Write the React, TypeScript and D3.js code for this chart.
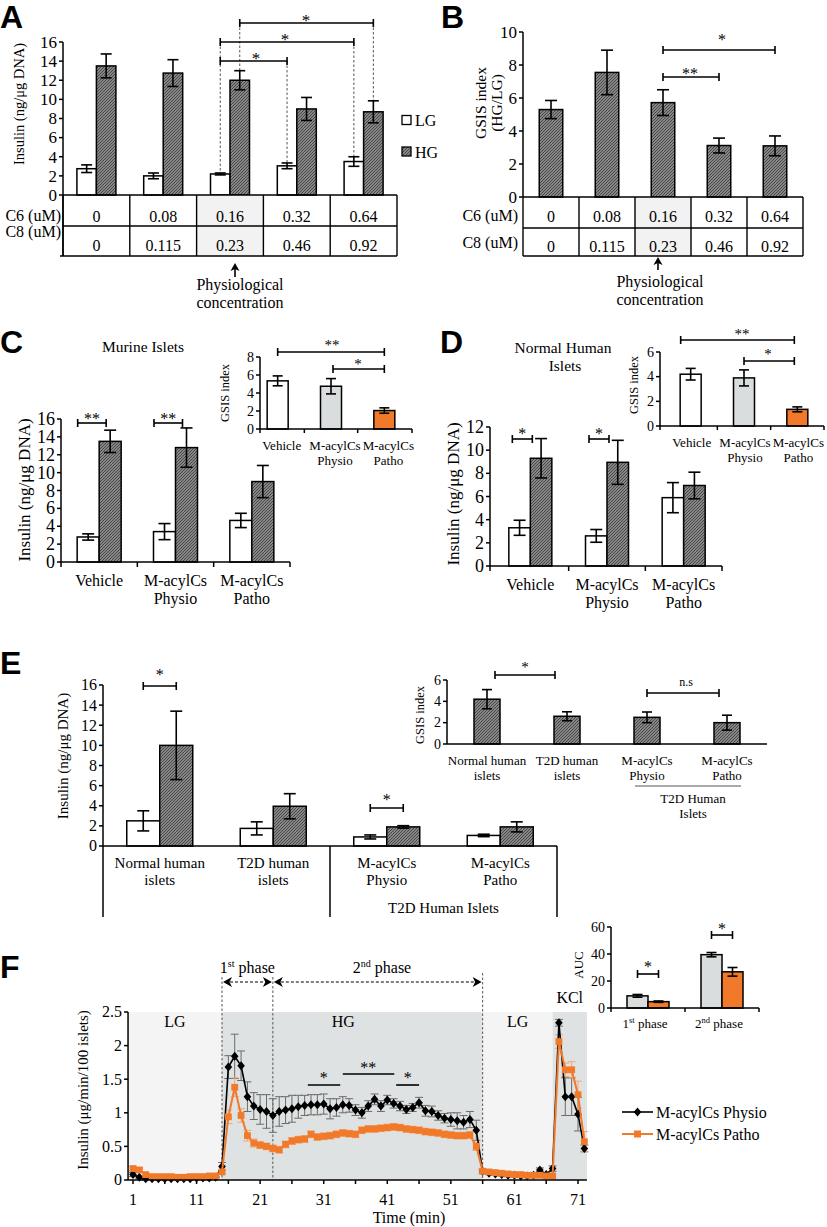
import React from "react";
import * as d3 from "d3";

const SERIF = '"Liberation Serif", "Times New Roman", Times, serif';
const SANS = '"Liberation Sans", Arial, Helvetica, sans-serif';
const ORANGE = "#f07a2a";
const ORANGE_ERR = "#f5a772";
const PHYSIO_FILL = "#d9dddd";
const LG_BG = "#f4f4f4";
const HG_BG = "#dee2e2";

// ===== Panels A / B =====
const c6Conc = ["0", "0.08", "0.16", "0.32", "0.64"];
const c8Conc = ["0", "0.115", "0.23", "0.46", "0.92"];
const aLG = [2.75, 2.0, 2.2, 3.05, 3.5];
const aLGErr = [0.4, 0.3, 0.1, 0.3, 0.5];
const aHG = [13.5, 12.75, 12.0, 9.0, 8.7];
const aHGErr = [1.25, 1.4, 1.0, 1.2, 1.15];
const aTicks = [0, 2, 4, 6, 8, 10, 12, 14, 16];
const bGsis = [5.3, 7.55, 5.72, 3.12, 3.1];
const bGsisErr = [0.55, 1.35, 0.78, 0.45, 0.6];
const bTicks = [0, 2, 4, 6, 8, 10];

// ===== Panels C / D =====
const treatments = ["Vehicle", "M-acylCs|Physio", "M-acylCs|Patho"];
const cLG = [2.8, 3.4, 4.65];
const cLGErr = [0.35, 0.9, 0.8];
const cHG = [13.5, 12.8, 9.0];
const cHGErr = [1.25, 2.2, 1.8];
const cGsis = [5.35, 4.75, 2.05];
const cGsisErr = [0.55, 0.85, 0.3];
const cTicks = [0, 2, 4, 6, 8, 10, 12, 14, 16];
const cInsetTicks = [0, 2, 4, 6, 8];
const dLG = [3.3, 2.6, 5.9];
const dLGErr = [0.65, 0.55, 1.3];
const dHG = [9.3, 8.95, 6.95];
const dHGErr = [1.7, 1.9, 1.15];
const dGsis = [4.2, 3.9, 1.35];
const dGsisErr = [0.47, 0.65, 0.2];
const dTicks = [0, 2, 4, 6, 8, 10, 12];
const dInsetTicks = [0, 2, 4, 6];
const insetFills = ["#ffffff", PHYSIO_FILL, ORANGE];

// ===== Panel E =====
const eGroups = ["Normal human|islets", "T2D human|islets", "M-acylCs|Physio", "M-acylCs|Patho"];
const eLG = [2.5, 1.75, 0.9, 1.05];
const eLGErr = [1.0, 0.65, 0.2, 0.12];
const eHG = [10.0, 3.95, 1.9, 1.9];
const eHGErr = [3.4, 1.25, 0.12, 0.5];
const eTicks = [0, 2, 4, 6, 8, 10, 12, 14, 16];
const eGsis = [4.2, 2.6, 2.5, 2.0];
const eGsisErr = [0.9, 0.42, 0.5, 0.7];
const eInsetTicks = [0, 2, 4, 6];

// ===== Panel F =====
const fTime = d3.range(1, 73);
const fPhysio = [
  0.08, 0.04, 0.02, 0.02, 0.02, 0.02, 0.02, 0.02, 0.02, 0.02,
  0.03, 0.03, 0.03, 0.04, 0.2, 1.68, 1.84, 1.7, 1.24, 1.1,
  1.05, 1.02, 0.96, 1.02, 1.04, 1.06, 1.09, 1.11, 1.12, 1.12,
  1.13, 1.06, 1.08, 1.12, 1.11, 1.04, 1.0, 1.1, 1.2, 1.1,
  1.19, 1.14, 1.1, 1.05, 1.08, 1.15, 1.03, 1.02, 0.96, 0.92,
  0.9, 0.88, 0.86, 0.9, 0.74, 0.13, 0.1, 0.09, 0.08, 0.07,
  0.07, 0.06, 0.06, 0.07, 0.15, 0.08, 0.17, 2.34, 1.24, 1.24,
  0.98, 0.47,
];
const fPhysioErr = [
  0.03, 0.02, 0.01, 0.01, 0.01, 0.01, 0.01, 0.01, 0.01, 0.01,
  0.01, 0.01, 0.01, 0.01, 0.06, 0.17, 0.33, 0.22, 0.22, 0.2,
  0.22, 0.25, 0.25, 0.22, 0.2, 0.2, 0.17, 0.15, 0.15, 0.15,
  0.15, 0.15, 0.13, 0.12, 0.1, 0.08, 0.08, 0.08, 0.08, 0.08,
  0.07, 0.07, 0.07, 0.06, 0.06, 0.08, 0.08, 0.08, 0.07, 0.07,
  0.1, 0.12, 0.1, 0.12, 0.15, 0.03, 0.02, 0.02, 0.02, 0.02,
  0.02, 0.02, 0.02, 0.02, 0.03, 0.02, 0.04, 0.05, 0.28, 0.28,
  0.25, 0.05,
];
const fPatho = [
  0.17, 0.15, 0.08, 0.05, 0.05, 0.05, 0.05, 0.04, 0.04, 0.05,
  0.05, 0.05, 0.06, 0.06, 0.12, 0.94, 1.38, 0.96, 0.66, 0.55,
  0.52, 0.5, 0.47, 0.45, 0.53, 0.58, 0.6, 0.61, 0.68, 0.64,
  0.65, 0.66, 0.68, 0.7, 0.69, 0.68, 0.74, 0.76, 0.76, 0.77,
  0.78, 0.79, 0.78, 0.76, 0.75, 0.74, 0.72, 0.71, 0.7, 0.68,
  0.67, 0.66, 0.66, 0.67, 0.5, 0.13, 0.12, 0.11, 0.1, 0.09,
  0.08, 0.08, 0.07, 0.07, 0.07, 0.06, 0.06, 2.06, 1.64, 1.64,
  1.27, 0.57,
];
const fPathoErr = [
  0.03, 0.03, 0.02, 0.02, 0.02, 0.02, 0.02, 0.02, 0.02, 0.02,
  0.02, 0.02, 0.02, 0.02, 0.03, 0.1, 0.14, 0.1, 0.08, 0.06,
  0.05, 0.05, 0.05, 0.05, 0.05, 0.05, 0.05, 0.05, 0.05, 0.05,
  0.05, 0.05, 0.05, 0.05, 0.05, 0.05, 0.05, 0.05, 0.05, 0.05,
  0.05, 0.05, 0.05, 0.05, 0.05, 0.05, 0.05, 0.05, 0.05, 0.05,
  0.05, 0.05, 0.05, 0.05, 0.06, 0.03, 0.02, 0.02, 0.02, 0.02,
  0.02, 0.02, 0.02, 0.02, 0.02, 0.02, 0.02, 0.1, 0.1, 0.12,
  0.2, 0.15,
];
const fXTicks = [1, 11, 21, 31, 41, 51, 61, 71];
const fXMinor = [1, 6, 11, 16, 21, 26, 31, 36, 41, 46, 51, 56, 61, 66, 71];
const fYTicks = [0, 0.5, 1, 1.5, 2, 2.5];
const fConditions = ["LG", "HG", "LG", "KCl"];
const fConditionBounds = [0.22, 15, 56, 67, 72.4];
const fPhaseBounds = [15, 23, 56];
const aucPhases = ["st", "nd"];
const aucPhysio = [9.0, 39.5];
const aucPhysioErr = [1.0, 1.6];
const aucPatho = [4.7, 26.8];
const aucPathoErr = [0.5, 3.2];
const aucTicks = [0, 20, 40, 60];

type Bd = d3.ScaleBand<number>;

function MText({ x, y, text, lh, ...rest }: any) {
  const lines = String(text).split("|");
  return (
    <text x={x} y={y} {...rest}>
      {lines.map((l, i) => (
        <tspan key={i} x={x} dy={i === 0 ? 0 : lh}>{l}</tspan>
      ))}
    </text>
  );
}

function YAxis({ scale, x, ticks, fs, tl = 4, gap = 2, fmt = (d: number) => String(d) }: any) {
  const r = scale.range();
  return (
    <g>
      <line x1={x} x2={x} y1={r[0]} y2={r[1]} stroke="#000" strokeWidth={1.5} />
      {ticks.map((t: number) => (
        <g key={t}>
          <line x1={x - tl} x2={x} y1={scale(t)} y2={scale(t)} stroke="#000" strokeWidth={1.5} />
          <text x={x - tl - gap} y={scale(t)} dy="0.34em" textAnchor="end" fontSize={fs}>{fmt(t)}</text>
        </g>
      ))}
    </g>
  );
}

function YLabel({ x, y, text, fs }: any) {
  return (
    <text transform={`translate(${x},${y}) rotate(-90)`} textAnchor="middle" fontSize={fs}>{text}</text>
  );
}

function ErrBar({ x, y, v, e, cap, stroke = "#000", sw = 1.6 }: any) {
  const yt = y(v + e);
  const yb = y(Math.max(0, v - e));
  return (
    <g stroke={stroke} strokeWidth={sw}>
      <line x1={x} x2={x} y1={yt} y2={yb} />
      <line x1={x - cap / 2} x2={x + cap / 2} y1={yt} y2={yt} />
      <line x1={x - cap / 2} x2={x + cap / 2} y1={yb} y2={yb} />
    </g>
  );
}

function Bracket({ x1, x2, y, label, lx, ty, fs = 16, h = 4 }: any) {
  const tx = lx ?? (x1 + x2) / 2;
  return (
    <g>
      <g stroke="#000" strokeWidth={1.6}>
        <line x1={x1} x2={x2} y1={y} y2={y} />
        <line x1={x1} x2={x1} y1={y - h} y2={y + h} />
        <line x1={x2} x2={x2} y1={y - h} y2={y + h} />
      </g>
      <text x={tx} y={ty ?? y + 3} textAnchor="middle" fontSize={fs} fill="#000">{label}</text>
    </g>
  );
}

function PairedBars({ x, y, lg, lgE, hg, hgE, bw, cap }: any) {
  return (
    <g>
      {lg.map((_: number, i: number) => {
        const c = x(i) + x.bandwidth() / 2;
        return (
          <g key={i}>
            <rect x={c - bw} y={y(lg[i])} width={bw} height={y(0) - y(lg[i])} fill="#fff" stroke="#000" strokeWidth={1.5} />
            <rect x={c} y={y(hg[i])} width={bw} height={y(0) - y(hg[i])} fill="url(#hgHatch)" stroke="#000" strokeWidth={1.5} />
            <ErrBar x={c - bw / 2} y={y} v={lg[i]} e={lgE[i]} cap={cap} />
            <ErrBar x={c + bw / 2} y={y} v={hg[i]} e={hgE[i]} cap={cap} />
          </g>
        );
      })}
    </g>
  );
}

function SingleBars({ x, y, vals, errs, bw, cap, fills, shift = 0 }: any) {
  return (
    <g>
      {vals.map((v: number, i: number) => {
        const c = x(i) + x.bandwidth() / 2 + shift;
        return (
          <g key={i}>
            <rect x={c - bw / 2} y={y(v)} width={bw} height={y(0) - y(v)} fill={fills[i]} stroke="#000" strokeWidth={1.5} />
            <ErrBar x={c} y={y} v={v} e={errs[i]} cap={cap} />
          </g>
        );
      })}
    </g>
  );
}

function ConcTable({ x, yTop, yMid, yBot, xEnd, labelX, l1y, l2y, v1y, v2y, xLeftExt }: any) {
  const bounds = [...x.domain().map((i: number) => x(i)), xEnd];
  return (
    <g>
      <rect x={x(2)} y={yTop} width={x.bandwidth()} height={yBot - yTop} fill="#f2f2f2" />
      <g stroke="#000" strokeWidth={1.4}>
        <line x1={bounds[0]} x2={xEnd} y1={yMid} y2={yMid} />
        <line x1={xLeftExt} x2={xEnd} y1={yBot} y2={yBot} />
        {bounds.map((b: number, i: number) => (
          <line key={i} x1={b} x2={b} y1={yTop} y2={yBot} />
        ))}
        <line x1={bounds[0]} x2={xEnd} y1={yTop} y2={yTop} strokeWidth={1.6} />
      </g>
      <text x={labelX} y={l1y} textAnchor="end" fontSize={16}>C6 (uM)</text>
      <text x={labelX} y={l2y} textAnchor="end" fontSize={16}>C8 (uM)</text>
      {c6Conc.map((c, i) => (
        <text key={"r1" + i} x={x(i) + x.bandwidth() / 2} y={v1y} textAnchor="middle" fontSize={16}>{c}</text>
      ))}
      {c8Conc.map((c, i) => (
        <text key={"r2" + i} x={x(i) + x.bandwidth() / 2} y={v2y} textAnchor="middle" fontSize={16}>{c}</text>
      ))}
    </g>
  );
}

function UpArrow({ x, y1, y2 }: any) {
  return (
    <g>
      <line x1={x} x2={x} y1={y1 + 4} y2={y2} stroke="#000" strokeWidth={1.6} />
      <path d={`M${x},${y1} l-4.5,8 l4.5,-2 l4.5,2z`} fill="#000" />
    </g>
  );
}

function HeadLeft({ x, y }: any) {
  return <path d={`M${x},${y} l9,-5 l-2.5,5 l2.5,5z`} fill="#000" />;
}
function HeadRight({ x, y }: any) {
  return <path d={`M${x},${y} l-9,-5 l2.5,5 l-2.5,5z`} fill="#000" />;
}

function PanelLetter({ x, y, t }: any) {
  return (
    <text x={x} y={y} fontFamily={SANS} fontWeight="bold" fontSize={32}>{t}</text>
  );
}

export default function App() {
  // ---- scales ----
  const yA = d3.scaleLinear().domain([0, 16]).range([195, 42]);
  const xA: Bd = d3.scaleBand<number>().domain(d3.range(5)).range([63, 397]);
  const bwA = 19.5;
  const cA = (i: number) => (xA(i) as number) + xA.bandwidth() / 2;

  const yB = d3.scaleLinear().domain([0, 10]).range([197, 32]);
  const xB: Bd = d3.scaleBand<number>().domain(d3.range(5)).range([523, 803]);
  const cB = (i: number) => (xB(i) as number) + xB.bandwidth() / 2;

  const yC = d3.scaleLinear().domain([0, 16]).range([562, 419]);
  const xC: Bd = d3.scaleBand<number>().domain(d3.range(3)).range([61, 290]);
  const cC = (i: number) => (xC(i) as number) + xC.bandwidth() / 2;
  const yCi = d3.scaleLinear().domain([0, 8]).range([429, 357]);
  const xCi: Bd = d3.scaleBand<number>().domain(d3.range(3)).range([251, 411]);
  const cCi = (i: number) => (xCi(i) as number) + xCi.bandwidth() / 2;

  const yD = d3.scaleLinear().domain([0, 12]).range([566, 427]);
  const xD: Bd = d3.scaleBand<number>().domain(d3.range(3)).range([492, 722]);
  const cD = (i: number) => (xD(i) as number) + xD.bandwidth() / 2;
  const yDi = d3.scaleLinear().domain([0, 6]).range([426, 352]);
  const xDi: Bd = d3.scaleBand<number>().domain(d3.range(3)).range([664, 824]);
  const cDi = (i: number) => (xDi(i) as number) + xDi.bandwidth() / 2;

  const yE = d3.scaleLinear().domain([0, 16]).range([846, 685]);
  const xE: Bd = d3.scaleBand<number>().domain(d3.range(4)).range([103, 557]);
  const cE = (i: number) => (xE(i) as number) + xE.bandwidth() / 2;
  const bwE = 33;
  const yEi = d3.scaleLinear().domain([0, 6]).range([744, 680]);
  const xEi: Bd = d3.scaleBand<number>().domain(d3.range(4)).range([447, 767]);
  const cEi = (i: number) => (xEi(i) as number) + xEi.bandwidth() / 2;

  const yF = d3.scaleLinear().domain([0, 2.5]).range([1180, 1012]);
  const xF = d3.scaleLinear().domain([1, 71]).range([133, 578]);
  const yFi = d3.scaleLinear().domain([0, 60]).range([1008, 927]);
  const xFi: Bd = d3.scaleBand<number>().domain(d3.range(2)).range([611, 759]);
  const cFi = (i: number) => (xFi(i) as number) + xFi.bandwidth() / 2;
  const bwFi = 21;

  const lineGen = d3
    .line<number>()
    .x((_, i) => xF(fTime[i]))
    .y((d) => yF(d));

  const fx0 = xF(fConditionBounds[0]);
  const fx1 = xF(fConditionBounds[fConditionBounds.length - 1]);

  return (
    <svg
      width={827}
      height={1227}
      style={{ position: "absolute", left: 0, top: 0, background: "#fff" }}
      fontFamily={SERIF}
    >
      <defs>
        <pattern id="hgHatch" patternUnits="userSpaceOnUse" width={3} height={3}>
          <rect width={3} height={3} fill="#a0a0a0" />
          <path d="M-0.75,0.75 L0.75,-0.75 M0,3 L3,0 M2.25,3.75 L3.75,2.25" stroke="#444" strokeWidth={1.1} />
        </pattern>
      </defs>
      <rect width={827} height={1227} fill="#fff" />

      {/* ================= A ================= */}
      <PanelLetter x={0} y={28} t="A" />
      <g stroke="#555" strokeWidth={1} strokeDasharray="2.5,2">
        <line x1={cA(2) - bwA / 2} x2={cA(2) - bwA / 2} y1={42} y2={yA(aLG[2] + aLGErr[2])} />
        <line x1={cA(3) - bwA / 2} x2={cA(3) - bwA / 2} y1={61} y2={yA(aLG[3] + aLGErr[3])} />
        <line x1={cA(4) - bwA / 2} x2={cA(4) - bwA / 2} y1={42} y2={yA(aLG[4] + aLGErr[4])} />
        <line x1={cA(2) + bwA / 2} x2={cA(2) + bwA / 2} y1={23} y2={yA(aHG[2] + aHGErr[2])} />
        <line x1={cA(4) + bwA / 2} x2={cA(4) + bwA / 2} y1={23} y2={yA(aHG[4] + aHGErr[4])} />
      </g>
      <PairedBars x={xA} y={yA} lg={aLG} lgE={aLGErr} hg={aHG} hgE={aHGErr} bw={bwA} cap={11} />
      <ConcTable x={xA} yTop={195} yMid={226} yBot={256} xEnd={397} labelX={61} l1y={221} l2y={237} v1y={222} v2y={251} xLeftExt={60} />
      <line x1={63} x2={63} y1={195} y2={256} stroke="#000" strokeWidth={1.5} />
      <YAxis scale={yA} x={63} ticks={aTicks} fs={17} />
      <YLabel x={24} y={104} text="Insulin (ng/μg DNA)" fs={14.5} />
      <Bracket x1={cA(2) - bwA / 2} x2={cA(3) - bwA / 2} y={61} label="*" lx={256} ty={64} fs={17} />
      <Bracket x1={cA(2) - bwA / 2} x2={cA(4) - bwA / 2} y={42} label="*" lx={285} ty={45} fs={17} />
      <Bracket x1={cA(2) + bwA / 2} x2={cA(4) + bwA / 2} y={23} label="*" lx={306} ty={26} fs={17} />
      <rect x={402} y={115.5} width={9} height={9} fill="#fff" stroke="#000" strokeWidth={1.3} />
      <text x={415} y={126} fontSize={16}>LG</text>
      <rect x={402} y={147} width={9} height={9} fill="url(#hgHatch)" stroke="#000" strokeWidth={1.3} />
      <text x={415} y={158} fontSize={16}>HG</text>
      <UpArrow x={cA(2) + 5} y1={263} y2={277} />
      <text x={240} y={290} textAnchor="middle" fontSize={16}>Physiological</text>
      <text x={240} y={308} textAnchor="middle" fontSize={16}>concentration</text>

      {/* ================= B ================= */}
      <PanelLetter x={441} y={28} t="B" />
      <SingleBars x={xB} y={yB} vals={bGsis} errs={bGsisErr} bw={23.5} cap={12} fills={bGsis.map(() => "url(#hgHatch)")} />
      <ConcTable x={xB} yTop={197} yMid={228} yBot={256} xEnd={803} labelX={518} l1y={221} l2y={248} v1y={222} v2y={252} xLeftExt={523} />
      <YAxis scale={yB} x={523} ticks={bTicks} fs={17} />
      <YLabel x={486} y={103} text="GSIS index" fs={15.5} />
      <YLabel x={502} y={103} text="(HG/LG)" fs={15.5} />
      <Bracket x1={cB(2)} x2={cB(3)} y={77} label="**" lx={690} ty={78.5} fs={16} />
      <Bracket x1={cB(2)} x2={cB(4)} y={50} label="*" lx={722} ty={45} fs={16} />
      <UpArrow x={cB(2) - 5} y1={257} y2={270} />
      <text x={660} y={287} textAnchor="middle" fontSize={16}>Physiological</text>
      <text x={660} y={305} textAnchor="middle" fontSize={16}>concentration</text>

      {/* ================= C ================= */}
      <PanelLetter x={0} y={353} t="C" />
      <text x={143} y={352} textAnchor="middle" fontSize={15.5}>Murine Islets</text>
      <PairedBars x={xC} y={yC} lg={cLG} lgE={cLGErr} hg={cHG} hgE={cHGErr} bw={22} cap={12} />
      <YAxis scale={yC} x={61} ticks={cTicks} fs={18} />
      <line x1={61} x2={290} y1={562} y2={562} stroke="#000" strokeWidth={1.5} />
      {[...xC.domain().map((i) => xC(i) as number), 290].map((b, i) => (
        <line key={i} x1={b} x2={b} y1={562} y2={567} stroke="#000" strokeWidth={1.5} />
      ))}
      {treatments.map((t, i) => (
        <MText key={i} x={cC(i)} y={586} text={t} lh={18} textAnchor="middle" fontSize={16} />
      ))}
      <YLabel x={30} y={490} text="Insulin (ng/μg DNA)" fs={17} />
      {[0, 1].map((i) => (
        <Bracket key={i} x1={cC(i) - 21.5} x2={cC(i) + 7} y={423} label="**" ty={423.5} fs={16} />
      ))}
      <SingleBars x={xCi} y={yCi} vals={cGsis} errs={cGsisErr} bw={21} cap={10} fills={insetFills} />
      <YAxis scale={yCi} x={260} ticks={cInsetTicks} fs={14} tl={4} />
      <line x1={260} x2={412} y1={429} y2={429} stroke="#000" strokeWidth={1.5} />
      {[260, (xCi(1) as number), (xCi(2) as number), 412].map((b, i) => (
        <line key={i} x1={b} x2={b} y1={429} y2={433} stroke="#000" strokeWidth={1.5} />
      ))}
      {treatments.map((t, i) => (
        <MText key={i} x={cCi(i) + 4} y={450} text={t} lh={15} textAnchor="middle" fontSize={13} />
      ))}
      <YLabel x={229} y={393} text="GSIS index" fs={12.5} />
      <Bracket x1={cCi(0)} x2={cCi(2)} y={352} label="**" lx={332} ty={350} fs={15} />
      <Bracket x1={cCi(1) + 2} x2={cCi(2)} y={369} label="*" lx={358} ty={369} fs={15} />

      {/* ================= D ================= */}
      <PanelLetter x={440} y={353} t="D" />
      <text x={563} y={353} textAnchor="middle" fontSize={15.5}>Normal Human</text>
      <text x={565} y={371} textAnchor="middle" fontSize={15.5}>Islets</text>
      <PairedBars x={xD} y={yD} lg={dLG} lgE={dLGErr} hg={dHG} hgE={dHGErr} bw={21.5} cap={12} />
      <YAxis scale={yD} x={490} ticks={dTicks} fs={18} />
      <line x1={490} x2={722} y1={566} y2={566} stroke="#000" strokeWidth={1.5} />
      {[490, ...xD.domain().slice(1).map((i) => xD(i) as number), 722].map((b, i) => (
        <line key={i} x1={b} x2={b} y1={566} y2={571} stroke="#000" strokeWidth={1.5} />
      ))}
      {treatments.map((t, i) => (
        <MText key={i} x={cD(i)} y={590} text={t} lh={18} textAnchor="middle" fontSize={16} />
      ))}
      <YLabel x={459} y={494} text="Insulin (ng/μg DNA)" fs={17} />
      {[0, 1].map((i) => (
        <Bracket key={i} x1={cD(i) - 18} x2={cD(i) + 2} y={439} label="*" ty={439} fs={16} />
      ))}
      <SingleBars x={xDi} y={yDi} vals={dGsis} errs={dGsisErr} bw={21} cap={10} fills={insetFills} />
      <YAxis scale={yDi} x={660} ticks={dInsetTicks} fs={14} />
      <line x1={660} x2={824} y1={426} y2={426} stroke="#000" strokeWidth={1.5} />
      {[660, (xDi(1) as number), (xDi(2) as number), 824].map((b, i) => (
        <line key={i} x1={b} x2={b} y1={426} y2={430} stroke="#000" strokeWidth={1.5} />
      ))}
      {treatments.map((t, i) => (
        <MText key={i} x={cDi(i) + 1} y={447} text={t} lh={15} textAnchor="middle" fontSize={13} />
      ))}
      <YLabel x={638} y={385} text="GSIS index" fs={12.5} />
      <Bracket x1={cDi(0) - 10} x2={cDi(2) - 3} y={340} label="**" lx={742} ty={338.5} fs={15} />
      <Bracket x1={cDi(1)} x2={cDi(2) - 3} y={361} label="*" lx={768} ty={359} fs={15} />

      {/* ================= E ================= */}
      <PanelLetter x={0} y={674} t="E" />
      <PairedBars x={xE} y={yE} lg={eLG} lgE={eLGErr} hg={eHG} hgE={eHGErr} bw={bwE} cap={12} />
      <YAxis scale={yE} x={103} ticks={eTicks} fs={16} />
      <line x1={103} x2={557} y1={846} y2={846} stroke="#000" strokeWidth={1.5} />
      {[103, xE(2) as number, 557].map((b, i) => (
        <line key={i} x1={b} x2={b} y1={846} y2={917} stroke="#000" strokeWidth={1.5} />
      ))}
      {eGroups.map((t, i) => (
        <MText key={i} x={cE(i)} y={868} text={t} lh={17} textAnchor="middle" fontSize={15} />
      ))}
      <text x={((xE(2) as number) + 557) / 2} y={913} textAnchor="middle" fontSize={15}>T2D Human Islets</text>
      <YLabel x={68} y={756} text="Insulin (ng/μg DNA)" fs={15} />
      <Bracket x1={cE(0) - bwE / 2} x2={cE(0) + bwE / 2} y={686} label="*" ty={680} fs={16} />
      <Bracket x1={cE(2) - bwE / 2} x2={cE(2) + bwE / 2} y={808} label="*" ty={805} fs={16} />
      <SingleBars x={xEi} y={yEi} vals={eGsis} errs={eGsisErr} bw={26} cap={10} fills={eGsis.map(() => "url(#hgHatch)")} />
      <YAxis scale={yEi} x={447} ticks={eInsetTicks} fs={14} />
      <line x1={447} x2={767} y1={744} y2={744} stroke="#000" strokeWidth={1.6} />
      {eGroups.map((t, i) => (
        <MText key={i} x={cEi(i)} y={765} text={t} lh={15} textAnchor="middle" fontSize={13} />
      ))}
      <line x1={cEi(2) - 12} x2={cEi(3) + 14} y1={786} y2={786} stroke="#555" strokeWidth={1} />
      <text x={693} y={803} textAnchor="middle" fontSize={13}>T2D Human</text>
      <text x={693} y={818} textAnchor="middle" fontSize={13}>Islets</text>
      <YLabel x={424} y={715} text="GSIS index" fs={12.5} />
      <Bracket x1={cEi(0) + 8} x2={cEi(1) - 12} y={675} label="*" ty={672} fs={15} />
      <Bracket x1={cEi(2)} x2={cEi(3) - 8} y={693} label="n.s" lx={686} ty={686} fs={12} />

      {/* ================= F ================= */}
      <PanelLetter x={0} y={978} t="F" />
      {fConditions.map((c, i) => (
        <rect
          key={i}
          x={xF(fConditionBounds[i])}
          y={1012}
          width={xF(fConditionBounds[i + 1]) - xF(fConditionBounds[i])}
          height={1180 - 1012}
          fill={c === "LG" ? LG_BG : HG_BG}
        />
      ))}
      {fConditions.map((c, i) => {
        const mx = (xF(fConditionBounds[i]) + xF(fConditionBounds[i + 1])) / 2;
        return c === "KCl" ? (
          <text key={i} x={mx} y={1003} textAnchor="middle" fontSize={16}>{c}</text>
        ) : (
          <text key={i} x={i === 1 ? mx - 9 : mx} y={1027} textAnchor="middle" fontSize={16}>{c}</text>
        );
      })}
      <g stroke="#555" strokeWidth={1} strokeDasharray="2.5,2">
        {fPhaseBounds.map((p, i) => (
          <line key={i} x1={xF(p)} x2={xF(p)} y1={i === 2 ? 973 : 977} y2={1180} />
        ))}
      </g>
      <g stroke="#000" strokeWidth={1.2} strokeDasharray="3,2">
        <line x1={xF(fPhaseBounds[0]) + 3} x2={xF(fPhaseBounds[1]) - 3} y1={982} y2={982} />
        <line x1={xF(fPhaseBounds[1]) + 3} x2={xF(fPhaseBounds[2]) - 3} y1={982} y2={982} />
      </g>
      <HeadLeft x={xF(fPhaseBounds[0]) + 1} y={982} />
      <HeadRight x={xF(fPhaseBounds[1]) - 1} y={982} />
      <HeadLeft x={xF(fPhaseBounds[1]) + 1} y={982} />
      <HeadRight x={xF(fPhaseBounds[2]) - 1} y={982} />
      <text x={(xF(fPhaseBounds[0]) + xF(fPhaseBounds[1])) / 2} y={973} textAnchor="middle" fontSize={16}>
        1<tspan fontSize={10} dy={-6}>st</tspan>
        <tspan dy={6}> phase</tspan>
      </text>
      <text x={382} y={973} textAnchor="middle" fontSize={16}>
        2<tspan fontSize={10} dy={-6}>nd</tspan>
        <tspan dy={6}> phase</tspan>
      </text>
      {fTime.map((t, i) => (
        <ErrBar key={"pe" + i} x={xF(t)} y={yF} v={fPhysio[i]} e={fPhysioErr[i]} cap={8} stroke="#6b6b6b" sw={1} />
      ))}
      {fTime.map((t, i) => (
        <ErrBar key={"oe" + i} x={xF(t)} y={yF} v={fPatho[i]} e={fPathoErr[i]} cap={8} stroke={ORANGE_ERR} sw={1} />
      ))}
      <path d={lineGen(fPhysio) || ""} fill="none" stroke="#000" strokeWidth={1.6} />
      {fTime.map((t, i) => (
        <path key={"pd" + i} d={`M${xF(t)},${yF(fPhysio[i]) - 4.5} l3.8,4.5 l-3.8,4.5 l-3.8,-4.5z`} fill="#000" />
      ))}
      <path d={lineGen(fPatho) || ""} fill="none" stroke={ORANGE} strokeWidth={2} />
      {fTime.map((t, i) => (
        <rect key={"os" + i} x={xF(t) - 3.4} y={yF(fPatho[i]) - 3.4} width={6.8} height={6.8} fill={ORANGE} />
      ))}
      <YAxis scale={yF} x={fx0} ticks={fYTicks} fs={16} fmt={(d: number) => String(d)} />
      <line x1={fx0} x2={fx1} y1={1180} y2={1180} stroke="#000" strokeWidth={1.5} />
      {fXMinor.map((t) => (
        <line key={t} x1={xF(t)} x2={xF(t)} y1={1180} y2={1184} stroke="#000" strokeWidth={1.5} />
      ))}
      {fXTicks.map((t) => (
        <text key={t} x={xF(t)} y={1205} textAnchor="middle" fontSize={16}>{t}</text>
      ))}
      <text x={409} y={1223} textAnchor="middle" fontSize={16}>Time (min)</text>
      <YLabel x={88} y={1090} text="Insulin (μg/min/100 islets)" fs={15} />
      <g stroke="#000" strokeWidth={1.6}>
        <line x1={xF(28.5)} x2={xF(33.6)} y1={1085} y2={1085} />
        <line x1={xF(34)} x2={xF(42.1)} y1={1074} y2={1074} />
        <line x1={xF(42.4)} x2={xF(46)} y1={1085} y2={1085} />
      </g>
      <text x={xF(31)} y={1083} textAnchor="middle" fontSize={16}>*</text>
      <text x={xF(38)} y={1073} textAnchor="middle" fontSize={16}>**</text>
      <text x={xF(44.2)} y={1083} textAnchor="middle" fontSize={16}>*</text>
      <line x1={622} x2={653} y1={1112} y2={1112} stroke="#000" strokeWidth={1.6} />
      <path d={`M637.5,1107.5 l3.8,4.5 l-3.8,4.5 l-3.8,-4.5z`} fill="#000" />
      <text x={656} y={1118} fontSize={16}>M-acylCs Physio</text>
      <line x1={622} x2={653} y1={1134} y2={1134} stroke={ORANGE} strokeWidth={2} />
      <rect x={634} y={1130.5} width={7} height={7} fill={ORANGE} />
      <text x={656} y={1140} fontSize={16}>M-acylCs Patho</text>

      {aucPhases.map((_, i) => {
        const c = cFi(i);
        return (
          <g key={i}>
            <rect x={c - bwFi} y={yFi(aucPhysio[i])} width={bwFi} height={yFi(0) - yFi(aucPhysio[i])} fill={PHYSIO_FILL} stroke="#000" strokeWidth={1.5} />
            <rect x={c} y={yFi(aucPatho[i])} width={bwFi} height={yFi(0) - yFi(aucPatho[i])} fill={ORANGE} stroke="#000" strokeWidth={1.5} />
            <ErrBar x={c - bwFi / 2} y={yFi} v={aucPhysio[i]} e={aucPhysioErr[i]} cap={10} />
            <ErrBar x={c + bwFi / 2} y={yFi} v={aucPatho[i]} e={aucPathoErr[i]} cap={10} />
            <Bracket x1={c - bwFi / 2} x2={c + bwFi / 2} y={i === 0 ? 974 : 935} label="*" ty={i === 0 ? 972 : 934} fs={16} />
            <text x={c - 3} y={1028} textAnchor="middle" fontSize={13}>
              {i + 1}
              <tspan fontSize={8.5} dy={-5}>{aucPhases[i]}</tspan>
              <tspan dy={5}> phase</tspan>
            </text>
          </g>
        );
      })}
      <YAxis scale={yFi} x={611} ticks={aucTicks} fs={14} />
      <line x1={611} x2={759} y1={1008} y2={1008} stroke="#000" strokeWidth={1.5} />
      {[611, xFi(1) as number, 759].map((b, i) => (
        <line key={i} x1={b} x2={b} y1={1008} y2={1012} stroke="#000" strokeWidth={1.5} />
      ))}
      <YLabel x={583} y={965} text="AUC" fs={13} />
    </svg>
  );
}
